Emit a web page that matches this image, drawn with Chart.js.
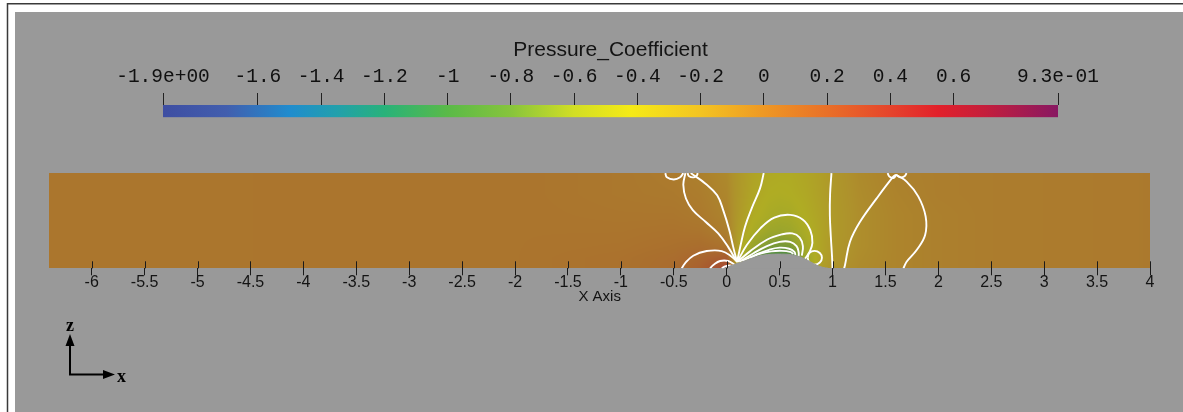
<!DOCTYPE html>
<html>
<head>
<meta charset="utf-8">
<script src="https://cdn.jsdelivr.net/npm/chart.js@4.4.1/dist/chart.umd.min.js"></script>
<style>
  html, body { margin: 0; padding: 0; background: #fff; }
  #wrap { position: relative; width: 1183px; height: 412px; overflow: hidden; }
  #main, #bar { position: absolute; left: 0; top: 0; }
</style>
</head>
<body>
<div id="wrap">
  <canvas id="main" width="1183" height="412"></canvas>
  <canvas id="bar" width="1183" height="125"></canvas>
</div>
<script>
// ---- Colour map (Pressure_Coefficient) ----
const cbMin = -1.9;
const cbMax = 0.93;
const cmapValues = [-1.9, -1.7, -1.5, -1.35, -1.2, -1.0, -0.8, -0.6, -0.42, -0.2, 0.0, 0.2, 0.4, 0.55, 0.7, 0.93];
const cmapColors = [
  [62, 78, 162], [66, 94, 174], [32, 140, 206], [34, 160, 172], [40, 178, 122], [90, 186, 72],
  [135, 196, 60], [210, 222, 36], [245, 234, 22], [243, 196, 34], [238, 152, 36], [233, 112, 40],
  [229, 68, 44], [226, 32, 42], [196, 30, 60], [136, 24, 98]
];
const cbTicks = [-1.9, -1.6, -1.4, -1.2, -1, -0.8, -0.6, -0.4, -0.2, 0, 0.2, 0.4, 0.6, 0.93];
const cbTickLabels = ['-1.9e+00', '-1.6', '-1.4', '-1.2', '-1', '-0.8', '-0.6', '-0.4', '-0.2', '0', '0.2', '0.4', '0.6', '9.3e-01'];

// ---- Domain, axis ticks ----
const domainX = [-6.4, 4];
const domainZ = [0, 0.9];
const xTicks = [-6, -5.5, -5, -4.5, -4, -3.5, -3, -2.5, -2, -1.5, -1, -0.5, 0, 0.5, 1, 1.5, 2, 2.5, 3, 3.5, 4];
const xTickLabels = ['-6', '-5.5', '-5', '-4.5', '-4', '-3.5', '-3', '-2.5', '-2', '-1.5', '-1', '-0.5', '0', '0.5', '1', '1.5', '2', '2.5', '3', '3.5', '4'];

// ---- Bump on the lower wall ----
const bumpX = [-0.02, 0.04, 0.13, 0.2, 0.28, 0.35, 0.42, 0.52, 0.6, 0.69, 0.74, 0.79, 0.85, 0.91, 0.96];
const bumpZ = [0, 0.025, 0.055, 0.08, 0.11, 0.125, 0.132, 0.134, 0.13, 0.11, 0.087, 0.062, 0.03, 0.008, 0];

// ---- Sampled pressure coefficient field (rows from z = 0 upward) ----
const fieldX = [-6.4, -2, -1, -0.5, -0.25, 0, 0.1, 0.25, 0.4, 0.5, 0.6, 0.75, 0.9, 1.0, 1.25, 1.6, 2.0, 2.5, 4.0];
const fieldZ = [0, 0.1, 0.2, 0.35, 0.5, 0.7, 0.9];
const cpGrid = [
  [-0.03, -0.02, 0.0, 0.04, 0.12, 0.3, -0.3, -0.95, -1.05, -1.08, -1.02, -0.6, -0.3, -0.22, -0.16, -0.12, -0.09, -0.07, -0.05],
  [-0.03, -0.02, 0.0, 0.03, 0.08, 0.15, -0.35, -0.8, -0.95, -1.0, -0.95, -0.55, -0.33, -0.25, -0.17, -0.12, -0.09, -0.07, -0.05],
  [-0.03, -0.02, -0.01, 0.01, 0.03, 0.0, -0.3, -0.6, -0.72, -0.75, -0.72, -0.5, -0.34, -0.26, -0.18, -0.12, -0.09, -0.07, -0.05],
  [-0.03, -0.02, -0.02, -0.01, -0.02, -0.08, -0.27, -0.46, -0.56, -0.58, -0.56, -0.45, -0.34, -0.27, -0.18, -0.12, -0.09, -0.07, -0.05],
  [-0.03, -0.02, -0.03, -0.03, -0.05, -0.11, -0.25, -0.4, -0.47, -0.49, -0.48, -0.41, -0.33, -0.27, -0.18, -0.12, -0.09, -0.07, -0.05],
  [-0.03, -0.02, -0.04, -0.05, -0.07, -0.13, -0.24, -0.36, -0.42, -0.43, -0.42, -0.38, -0.31, -0.26, -0.17, -0.11, -0.08, -0.07, -0.05],
  [-0.03, -0.02, -0.04, -0.06, -0.09, -0.15, -0.24, -0.34, -0.39, -0.4, -0.4, -0.36, -0.3, -0.25, -0.16, -0.1, -0.08, -0.07, -0.05]
];

// ---- Iso-lines of Cp, as (x, z) points ----
const fanLineA = [[-0.39, 0.9], [-0.41, 0.79], [-0.385, 0.66], [-0.32, 0.55], [-0.2, 0.44], [-0.08, 0.33], [0.015, 0.2], [0.09, 0.07]];
const fanLineB = [[-0.34, 0.9], [-0.2, 0.8], [-0.09, 0.69], [-0.03, 0.54], [0.025, 0.36], [0.062, 0.2], [0.095, 0.07]];
const fanLineC = [[0.35, 0.9], [0.315, 0.756], [0.236, 0.567], [0.173, 0.393], [0.132, 0.22], [0.1, 0.07]];
const highLoop1 = [[-0.425, 0], [-0.394, 0.047], [-0.316, 0.119], [-0.189, 0.163], [-0.047, 0.163], [0.047, 0.11], [0.1, 0.06]];
const highLoop2 = [[-0.158, 0], [-0.126, 0.031], [-0.063, 0.069], [0.015, 0.069], [0.078, 0.031]];
const highLoop3 = [[-0.047, 0], [-0.016, 0.018], [0.031, 0.028], [0.062, 0.018]];
const suctionArc1 = [[0.1, 0.06], [0.19, 0.22], [0.32, 0.38], [0.45, 0.48], [0.6, 0.505], [0.72, 0.46], [0.79, 0.36], [0.81, 0.24], [0.78, 0.15], [0.74, 0.09]];
const suctionArc2 = [[0.1, 0.06], [0.22, 0.16], [0.38, 0.27], [0.52, 0.32], [0.62, 0.33], [0.69, 0.29], [0.72, 0.21], [0.71, 0.12]];
const suctionArc3 = [[0.12, 0.06], [0.25, 0.14], [0.38, 0.21], [0.5, 0.25], [0.6, 0.25], [0.66, 0.21], [0.68, 0.15], [0.68, 0.115]];
const suctionArc4 = [[0.15, 0.07], [0.28, 0.13], [0.4, 0.175], [0.5, 0.195], [0.59, 0.185], [0.64, 0.155], [0.65, 0.125]];
const suctionArc5 = [[0.22, 0.1], [0.32, 0.14], [0.42, 0.16], [0.52, 0.165], [0.6, 0.155], [0.63, 0.135]];
const wakeRing = [[0.765, 0.1], [0.78, 0.145], [0.83, 0.165], [0.88, 0.145], [0.9, 0.1], [0.88, 0.055], [0.83, 0.035], [0.78, 0.055], [0.765, 0.1]];
const wakeLineA = [[0.99, 0.9], [0.977, 0.7], [0.975, 0.5], [0.984, 0.3], [0.995, 0.12], [1.0, 0]];
const wakeLineB = [[1.6, 0.885], [1.574, 0.866], [1.417, 0.661], [1.26, 0.44], [1.165, 0.251], [1.118, 0.031], [1.11, 0]];
const wakeLineC = [[1.6, 0.885], [1.7, 0.82], [1.81, 0.68], [1.88, 0.49], [1.875, 0.315], [1.795, 0.173], [1.7, 0.062], [1.67, 0]];
const wallLoopA = [[-0.58, 0.9], [-0.565, 0.86], [-0.5, 0.84], [-0.44, 0.86], [-0.41, 0.9]];
const wallLoopB = [[-0.37, 0.9], [-0.355, 0.87], [-0.31, 0.86], [-0.28, 0.88], [-0.275, 0.9]];
const wallLoopC = [[1.52, 0.9], [1.54, 0.865], [1.58, 0.855], [1.6, 0.885]];
const wallLoopD = [[1.6, 0.885], [1.64, 0.86], [1.68, 0.87], [1.7, 0.9]];

const isoLines = [fanLineA, fanLineB, fanLineC, highLoop1, highLoop2, highLoop3,
  suctionArc1, suctionArc2, suctionArc3, suctionArc4, suctionArc5, wakeRing,
  wakeLineA, wakeLineB, wakeLineC, wallLoopA, wallLoopB, wallLoopC, wallLoopD];

// ---- helpers ----
function cmap(v) {
  if (v <= cmapValues[0]) return cmapColors[0];
  const n = cmapValues.length;
  if (v >= cmapValues[n - 1]) return cmapColors[n - 1];
  let k = 0;
  while (v > cmapValues[k + 1]) k++;
  const t = (v - cmapValues[k]) / (cmapValues[k + 1] - cmapValues[k]);
  const a = cmapColors[k], b = cmapColors[k + 1];
  return [a[0] + (b[0] - a[0]) * t, a[1] + (b[1] - a[1]) * t, a[2] + (b[2] - a[2]) * t];
}
// surface shading of the coloured slice
function shade(c) {
  return [c[0] * 0.7 + 4, c[1] * 0.72 + 4, c[2] * 0.7 + 20];
}
function bracket(arr, v) {
  if (v <= arr[0]) return [0, 0];
  const n = arr.length;
  if (v >= arr[n - 1]) return [n - 2, 1];
  let k = 0;
  while (v > arr[k + 1]) k++;
  return [k, (v - arr[k]) / (arr[k + 1] - arr[k])];
}
function sampleCp(x, z) {
  const [i, tx] = bracket(fieldX, x);
  const [j, tz] = bracket(fieldZ, z);
  const r0 = cpGrid[j], r1 = cpGrid[Math.min(j + 1, fieldZ.length - 1)];
  const a = r0[i] + (r0[i + 1] - r0[i]) * tx;
  const b = r1[i] + (r1[i + 1] - r1[i]) * tx;
  return a + (b - a) * tz;
}
const rgb = c => `rgb(${Math.round(c[0])},${Math.round(c[1])},${Math.round(c[2])})`;

// ---- plugins ----
const backdrop = {
  id: 'backdrop',
  beforeDraw(chart) {
    const ctx = chart.ctx;
    ctx.save();
    ctx.fillStyle = '#ffffff';
    ctx.fillRect(0, 0, chart.width, chart.height);
    ctx.fillStyle = '#999999';
    ctx.fillRect(15, 12, chart.width - 15, chart.height - 12);
    ctx.strokeStyle = '#3a3a3a';
    ctx.lineWidth = 1.5;
    ctx.beginPath();
    ctx.moveTo(7.5, chart.height);
    ctx.lineTo(7.5, 3.75);
    ctx.lineTo(chart.width, 3.75);
    ctx.stroke();
    ctx.restore();
  }
};

const cpField = {
  id: 'cpField',
  beforeDatasetsDraw(chart) {
    const { ctx, scales: { x: sx, y: sy } } = chart;
    const left = Math.round(sx.getPixelForValue(domainX[0]));
    const right = Math.round(sx.getPixelForValue(domainX[1]));
    const top = Math.round(sy.getPixelForValue(domainZ[1]));
    const bottom = Math.round(sy.getPixelForValue(domainZ[0]));
    const w = right - left, h = bottom - top;
    const off = document.createElement('canvas');
    off.width = w; off.height = h;
    const octx = off.getContext('2d');
    const img = octx.createImageData(w, h);
    for (let j = 0; j < h; j++) {
      const z = sy.getValueForPixel(top + j + 0.5);
      for (let i = 0; i < w; i++) {
        const x = sx.getValueForPixel(left + i + 0.5);
        const c = shade(cmap(sampleCp(x, z)));
        const p = (j * w + i) * 4;
        img.data[p] = c[0]; img.data[p + 1] = c[1]; img.data[p + 2] = c[2]; img.data[p + 3] = 255;
      }
    }
    octx.putImageData(img, 0, 0);
    ctx.drawImage(off, left, top);
  }
};

const innerTicks = {
  id: 'innerTicks',
  afterDatasetsDraw(chart) {
    const { ctx, scales: { x: sx }, chartArea } = chart;
    ctx.save();
    ctx.strokeStyle = '#1a1a1a';
    ctx.lineWidth = 1;
    ctx.beginPath();
    sx.ticks.forEach(t => {
      const px = Math.round(sx.getPixelForValue(t.value)) + 0.5;
      ctx.moveTo(px, chartArea.bottom - 7);
      ctx.lineTo(px, chartArea.bottom);
    });
    ctx.stroke();
    ctx.restore();
  }
};

const triad = {
  id: 'triad',
  afterDraw(chart) {
    const ctx = chart.ctx;
    ctx.save();
    ctx.strokeStyle = '#000';
    ctx.fillStyle = '#000';
    ctx.lineWidth = 2;
    ctx.beginPath();
    ctx.moveTo(70, 374.5); ctx.lineTo(70, 344);
    ctx.moveTo(69, 374.5); ctx.lineTo(104, 374.5);
    ctx.stroke();
    ctx.beginPath();
    ctx.moveTo(70, 334); ctx.lineTo(65.5, 346); ctx.lineTo(74.5, 346); ctx.closePath();
    ctx.moveTo(115, 374.5); ctx.lineTo(103, 370); ctx.lineTo(103, 379); ctx.closePath();
    ctx.fill();
    ctx.font = 'bold 18px "Liberation Serif"';
    ctx.textAlign = 'center';
    ctx.textBaseline = 'alphabetic';
    ctx.fillText('z', 70, 331);
    ctx.fillText('x', 121.5, 382);
    ctx.restore();
  }
};

// ---- main slice chart ----
const isoSets = isoLines.map(pts => ({
  data: pts.map(p => ({ x: p[0], y: p[1] })),
  borderColor: '#ffffff',
  borderWidth: 1.9,
  pointRadius: 0,
  tension: 0.4,
  fill: false,
  order: 1
}));
const bumpSet = {
  data: bumpX.map((x, i) => ({ x: x, y: bumpZ[i] })),
  borderColor: '#999999',
  backgroundColor: '#999999',
  borderWidth: 1,
  pointRadius: 0,
  tension: 0.3,
  fill: 'origin',
  order: 0
};

new Chart(document.getElementById('main'), {
  type: 'line',
  data: { datasets: [...isoSets, bumpSet] },
  plugins: [backdrop, cpField, innerTicks, triad],
  options: {
    responsive: false,
    animation: false,
    events: [],
    layout: { padding: { left: 49.4, right: 33, top: 173.1, bottom: 0 } },
    plugins: { legend: { display: false }, tooltip: { enabled: false } },
    scales: {
      x: {
        type: 'linear',
        position: 'bottom',
        min: domainX[0],
        max: domainX[1],
        afterBuildTicks: s => { s.ticks = xTicks.map(v => ({ value: v })); },
        afterFit: s => { s.height = 412 - 268.3; },
        grid: { drawOnChartArea: false, drawTicks: true, tickLength: 7, color: '#1a1a1a', lineWidth: 1 },
        border: { display: false },
        ticks: {
          autoSkip: false,
          maxRotation: 0,
          padding: -1,
          color: '#141414',
          font: { family: 'Liberation Sans', size: 16, lineHeight: 1 },
          callback: v => xTickLabels[xTicks.indexOf(v)]
        },
        title: {
          display: true,
          text: 'X Axis',
          color: '#141414',
          font: { family: 'Liberation Sans', size: 15, lineHeight: 1.2 },
          padding: { top: 0, bottom: 106 }
        }
      },
      y: { type: 'linear', min: domainZ[0], max: domainZ[1], display: false }
    }
  }
});

// ---- colour legend ----
new Chart(document.getElementById('bar'), {
  type: 'bar',
  data: {
    labels: [''],
    datasets: [{
      data: [[cbMin, cbMax]],
      borderWidth: 0,
      barPercentage: 1,
      categoryPercentage: 1,
      backgroundColor: (c) => {
        const chart = c.chart;
        const sx = chart.scales.x;
        if (!chart.chartArea || !sx) return rgb(cmap(0));
        const x0 = sx.getPixelForValue(cbMin), x1 = sx.getPixelForValue(cbMax);
        const g = chart.ctx.createLinearGradient(x0, 0, x1, 0);
        cmapValues.forEach((v, i) => g.addColorStop((v - cbMin) / (cbMax - cbMin), rgb(cmapColors[i])));
        return g;
      }
    }]
  },
  options: {
    indexAxis: 'y',
    responsive: false,
    animation: false,
    events: [],
    layout: { padding: { left: 163, right: 125, top: 0, bottom: 7.7 } },
    plugins: {
      legend: { display: false },
      tooltip: { enabled: false },
      title: {
        display: true,
        text: 'Pressure_Coefficient',
        fullSize: false,
        color: '#141414',
        font: { family: 'Liberation Sans', size: 21, weight: 'normal', lineHeight: 1.2 },
        padding: { top: 37.9, bottom: 0 }
      }
    },
    scales: {
      x: {
        type: 'linear',
        position: 'top',
        min: cbMin,
        max: cbMax,
        afterBuildTicks: s => { s.ticks = cbTicks.map(v => ({ value: v })); },
        afterFit: s => { s.height = 105 - 63.1; },
        grid: { drawOnChartArea: false, drawTicks: true, tickLength: 12, color: '#222', lineWidth: 1 },
        border: { display: false },
        ticks: {
          autoSkip: false,
          maxRotation: 0,
          padding: 4,
          color: '#101010',
          font: { family: 'Liberation Mono', size: 19.5, lineHeight: 1.2 },
          callback: v => cbTickLabels[cbTicks.indexOf(v)]
        }
      },
      y: { type: 'category', display: false }
    }
  }
});
</script>
</body>
</html>
